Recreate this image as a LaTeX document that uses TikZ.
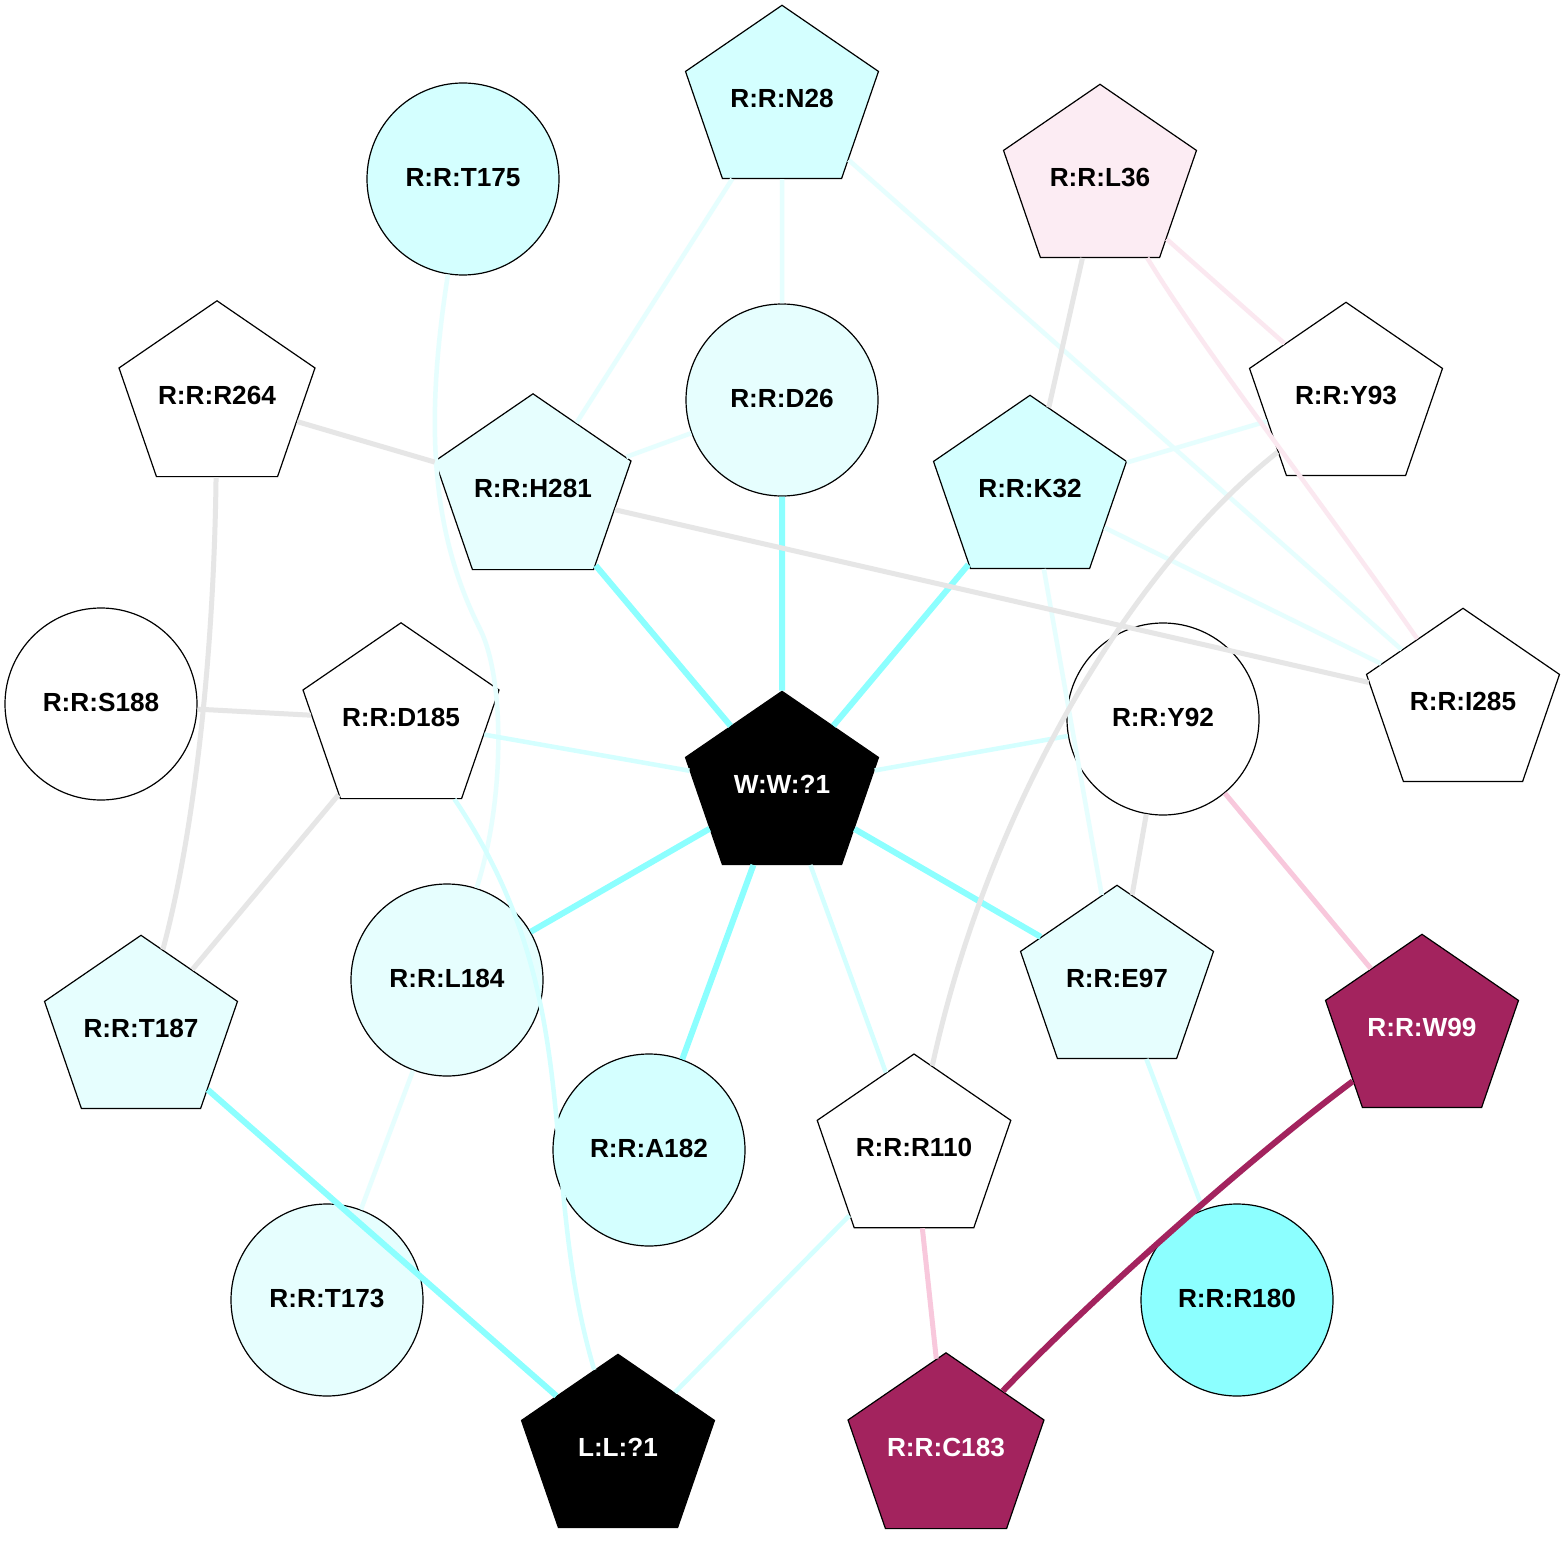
\documentclass[tikz,border=0pt]{standalone}
\usepackage{fontspec}
\setmainfont{Liberation Sans}
\usepackage{graphicx}
\usetikzlibrary{shapes.geometric}
\definecolor{cyanA}{HTML}{8CFFFF}
\definecolor{cyanB}{HTML}{D4FFFF}
\definecolor{cyanC}{HTML}{E6FEFE}
\definecolor{grayE}{HTML}{E6E6E6}
\definecolor{pinkE}{HTML}{F8C8DC}
\definecolor{pinkL}{HTML}{FBE8F0}
\definecolor{pinkF}{HTML}{FCECF3}
\definecolor{magE}{HTML}{A3235E}
\newcommand\plab[1]{\scalebox{0.943}[1]{#1}\rule[-6pt]{0pt}{6pt}}
\newcommand\clab[1]{#1\rule[-3pt]{0pt}{3pt}}
\begin{document}
\begin{tikzpicture}[x=1pt,y=-1pt,
  nd/.style={font=\fontsize{26.2}{30}\selectfont\bfseries, inner sep=0pt, line width=1.2pt, draw=black},
  pent/.style={nd, regular polygon, regular polygon sides=5, minimum size=191.4pt, xscale=1.06},
  circ/.style={nd, circle, minimum size=192pt},
  dark/.style={text=white},
  eA/.style={draw=cyanA, line width=6pt},
  eB/.style={draw=cyanB, line width=4.5pt},
  eC/.style={draw=cyanC, line width=4.5pt},
  eG/.style={draw=grayE, line width=5pt},
  eP/.style={draw=pinkE, line width=5pt},
  eLP/.style={draw=pinkL, line width=4.5pt},
  eM/.style={draw=magE, line width=6pt}
]
\useasboundingbox (0,0) rectangle (1564,1554);
\fill[white] (0,0) rectangle (1564,1554);

% circles
\node[circ, fill=cyanB] (T175) at (463,179) {\clab{R:R:T175}};
\node[circ, fill=cyanC] (D26) at (782,400) {\clab{R:R:D26}};
\node[circ, fill=white] (S188) at (101,704) {\clab{R:R:S188}};
\node[circ, fill=white] (Y92) at (1163,719) {\clab{R:R:Y92}};
\node[circ, fill=cyanC] (L184) at (447,980) {\clab{R:R:L184}};
\node[circ, fill=cyanB] (A182) at (649,1150) {\clab{R:R:A182}};
\node[circ, fill=cyanC] (T173) at (327,1300) {\clab{R:R:T173}};
\node[circ, fill=cyanA] (R180) at (1237,1300) {\clab{R:R:R180}};

% pentagons
\node[pent, fill=cyanB] (N28) at (782,101) {\plab{R:R:N28}};
\node[pent, fill=pinkF] (L36) at (1100,180) {\plab{R:R:L36}};
\node[pent, fill=white] (R264) at (217,398) {\plab{R:R:R264}};
\node[pent, fill=cyanC] (H281) at (533,491) {\plab{R:R:H281}};
\node[pent, fill=cyanB] (K32) at (1030,491) {\plab{R:R:K32}};
\node[pent, fill=white] (Y93) at (1346,398) {\plab{R:R:Y93}};
\node[pent, fill=white] (D185) at (401,720) {\plab{R:R:D185}};
\node[pent, fill=white] (I285) at (1463,704) {\plab{R:R:I285}};
\node[pent, fill=black, dark] (W) at (782,787) {\plab{W:W:?1}};
\node[pent, fill=cyanC] (E97) at (1117,981) {\plab{R:R:E97}};
\node[pent, fill=cyanC] (T187) at (141,1031) {\plab{R:R:T187}};
\node[pent, fill=magE, dark] (W99) at (1422,1030) {\plab{R:R:W99}};
\node[pent, fill=white] (R110) at (914,1150) {\plab{R:R:R110}};
\node[pent, fill=black, dark] (LL) at (618,1450) {\plab{L:L:?1}};
\node[pent, fill=magE, dark] (C183) at (946,1450) {\plab{R:R:C183}};

\coordinate (tmid) at (480,629);

% very light cyan
\draw[eC] (N28) -- (D26);
\draw[eC] (N28) -- (H281);
\draw[eC] (N28) -- (I285);
\draw[eC] (H281) -- (D26);
\draw[eC] (K32) -- (Y93);
\draw[eC] (K32) -- (I285);
\draw[eC] (K32) -- (E97);
\draw[eC] (L184) -- (T173);
\draw[eC] (T175) .. controls (425,420) and (430,530) .. (tmid) .. controls (505,679) and (505,800) .. (L184);

% light cyan
\draw[eB] (W) -- (D185);
\draw[eB] (W) -- (Y92);
\draw[eB] (W) -- (R110);
\draw[eB] (LL) -- (R110);
\draw[eB] (E97) -- (R180);
\draw[eB] (D185) .. controls (590,1000) and (535,1170) .. (LL);

% strong cyan
\draw[eA] (W) -- (H281);
\draw[eA] (W) -- (D26);
\draw[eA] (W) -- (K32);
\draw[eA] (W) -- (L184);
\draw[eA] (W) -- (A182);
\draw[eA] (W) -- (E97);
\draw[eA] (T187) -- (LL);

% gray
\draw[eG] (R264) -- (H281);
\draw[eG] (H281) -- (I285);
\draw[eG] (L36) -- (K32);
\draw[eG] (Y92) -- (E97);
\draw[eG] (S188) -- (D185);
\draw[eG] (D185) -- (T187);
\draw[eG] (R264) .. controls (214,650) and (195,830) .. (T187);
\draw[eG] (Y93) .. controls (1135,565) and (990,800) .. (R110);

% pink
\draw[eLP] (L36) -- (Y93);
\draw[eLP] (L36) .. controls (1200,345) and (1320,500) .. (I285);
\draw[eP] (Y92) -- (W99);
\draw[eP] (R110) -- (C183);

% magenta
\draw[eM] (W99) .. controls (1260,1150) and (1100,1290) .. (C183);
\end{tikzpicture}
\end{document}
